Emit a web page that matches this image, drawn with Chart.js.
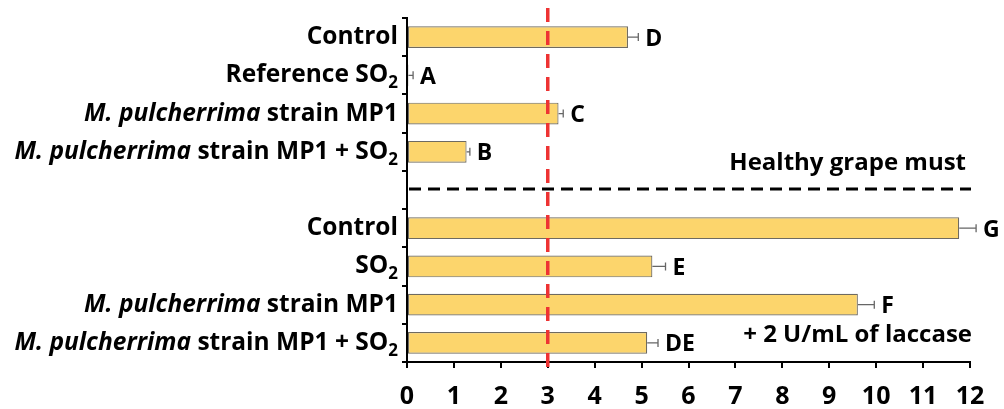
<!DOCTYPE html>
<html>
<head>
<meta charset="utf-8">
<script src="https://cdn.jsdelivr.net/npm/chart.js@4.4.1/dist/chart.umd.min.js"></script>
<style>
  html, body { margin: 0; padding: 0; background: #fff; }
  #wrap { width: 1004px; height: 409px; }
</style>
</head>
<body>
<div id="wrap"><canvas id="chart" width="1004" height="409"></canvas></div>
<script>
// data
const categories = [
  "Control",
  "Reference SO₂",
  "M. pulcherrima strain MP1",
  "M. pulcherrima strain MP1 + SO₂",
  "",
  "Control",
  "SO₂",
  "M. pulcherrima strain MP1",
  "M. pulcherrima strain MP1 + SO₂"
];
const values = [4.71, 0.03, 3.23, 1.27, null, 11.77, 5.23, 9.61, 5.12];
const errors = [0.22, 0.10, 0.10, 0.07, null, 0.36, 0.28, 0.35, 0.23];
const letters = ["D", "A", "C", "B", "", "G", "E", "F", "DE"];
const xTicks = [0, 1, 2, 3, 4, 5, 6, 7, 8, 9, 10, 11, 12];
const thresholdValue = 3;
const groupNotes = ["Healthy grape must", "+ 2 U/mL of laccase"];

const FONT = "'Open Sans', sans-serif";

// draw a label with italic species name and subscript 2
function drawRichLabel(ctx, text, right, y, size) {
  const segs = [];
  let rest = text;
  if (rest.startsWith("M. pulcherrima")) {
    segs.push({ t: "M. pulcherrima", style: "italic" });
    rest = rest.slice("M. pulcherrima".length);
  }
  const parts = rest.split("₂");
  parts.forEach((p, i) => {
    if (p) segs.push({ t: p, style: "normal" });
    if (i < parts.length - 1) segs.push({ t: "2", style: "sub" });
  });
  const fontFor = s => s.style === "italic" ? `italic bold ${size}px ${FONT}`
    : s.style === "sub" ? `bold ${Math.round(size * 0.68)}px ${FONT}` : `bold ${size}px ${FONT}`;
  let total = 0;
  segs.forEach(s => { ctx.font = fontFor(s); s.w = ctx.measureText(s.t).width; total += s.w; });
  let x = right - total;
  ctx.textAlign = "left";
  ctx.textBaseline = "alphabetic";
  segs.forEach(s => {
    ctx.font = fontFor(s);
    ctx.fillText(s.t, x, s.style === "sub" ? y + 14 : y + 8);
    x += s.w;
  });
}

const extras = {
  id: "extras",
  afterDatasetsDraw(chart) {
    const { ctx, chartArea, scales: { x, y } } = chart;
    ctx.save();
    ctx.fillStyle = "#000";

    // category labels
    categories.forEach((c, i) => {
      if (!c) return;
      drawRichLabel(ctx, c, chartArea.left - 9, y.getPixelForValue(i) - 1, 24.5);
    });

    // error bars + letters
    ctx.strokeStyle = "#666";
    ctx.lineWidth = 1.3;
    values.forEach((v, i) => {
      if (v === null) return;
      const yc = y.getPixelForValue(i);
      const x0 = x.getPixelForValue(v);
      const x1 = x.getPixelForValue(v + errors[i]);
      ctx.beginPath();
      ctx.moveTo(x0, yc); ctx.lineTo(x1, yc);
      ctx.moveTo(x1, yc - 4); ctx.lineTo(x1, yc + 4);
      ctx.stroke();
      ctx.font = `bold 23px ${FONT}`;
      ctx.textAlign = "left";
      ctx.textBaseline = "middle";
      ctx.fillText(letters[i], x1 + 7, yc + 2);
    });

    // group separator
    const ySep = y.getPixelForValue(4) - 1;
    ctx.strokeStyle = "#000";
    ctx.lineWidth = 3;
    ctx.setLineDash([12, 7]);
    ctx.beginPath();
    ctx.moveTo(chartArea.left + 2, ySep);
    ctx.lineTo(chartArea.right + 1, ySep);
    ctx.stroke();

    // reference line
    const xr = x.getPixelForValue(thresholdValue);
    ctx.strokeStyle = "#ee3333";
    ctx.lineWidth = 3.5;
    ctx.setLineDash([14, 9]);
    ctx.beginPath();
    ctx.moveTo(xr, chartArea.top - 10);
    ctx.lineTo(xr, chartArea.bottom + 8);
    ctx.stroke();
    ctx.setLineDash([]);

    // group notes
    ctx.font = `bold 24px ${FONT}`;
    ctx.textAlign = "right";
    ctx.textBaseline = "middle";
    ctx.fillStyle = "#000";
    ctx.fillText(groupNotes[0], chartArea.right - 4, y.getPixelForValue(3.29));
    ctx.fillText(groupNotes[1], chartArea.right + 2, y.getPixelForValue(7.79));
    ctx.restore();
  }
};

new Chart(document.getElementById("chart"), {
  type: "bar",
  data: {
    labels: categories,
    datasets: [{
      data: values,
      backgroundColor: "#fcd56c",
      borderColor: "#6e6a60",
      borderWidth: 1.2,
      borderSkipped: false,
      barPercentage: 0.57,
      categoryPercentage: 1
    }]
  },
  options: {
    indexAxis: "y",
    responsive: false,
    animation: false,
    layout: { padding: { top: 18, right: 34, left: 0, bottom: 0 } },
    plugins: { legend: { display: false }, tooltip: { enabled: false } },
    scales: {
      x: {
        min: 0, max: 12,
        afterBuildTicks: s => { s.ticks = xTicks.map(v => ({ value: v })); },
        afterFit: s => { s.height = 47; },
        border: { display: true, color: "#000", width: 2 },
        grid: { drawOnChartArea: false, drawTicks: true, tickLength: 6, color: "#000", lineWidth: 2 },
        ticks: { color: "#000", padding: 14, font: { family: FONT, weight: "bold", size: 25 } }
      },
      y: {
        afterFit: s => { s.width = 407; },
        border: { display: true, color: "#000", width: 2 },
        grid: { offset: true, drawOnChartArea: false, drawTicks: true, tickLength: 5, color: "#000", lineWidth: 2 },
        ticks: { display: false }
      }
    }
  },
  plugins: [extras]
});
</script>
</body>
</html>
